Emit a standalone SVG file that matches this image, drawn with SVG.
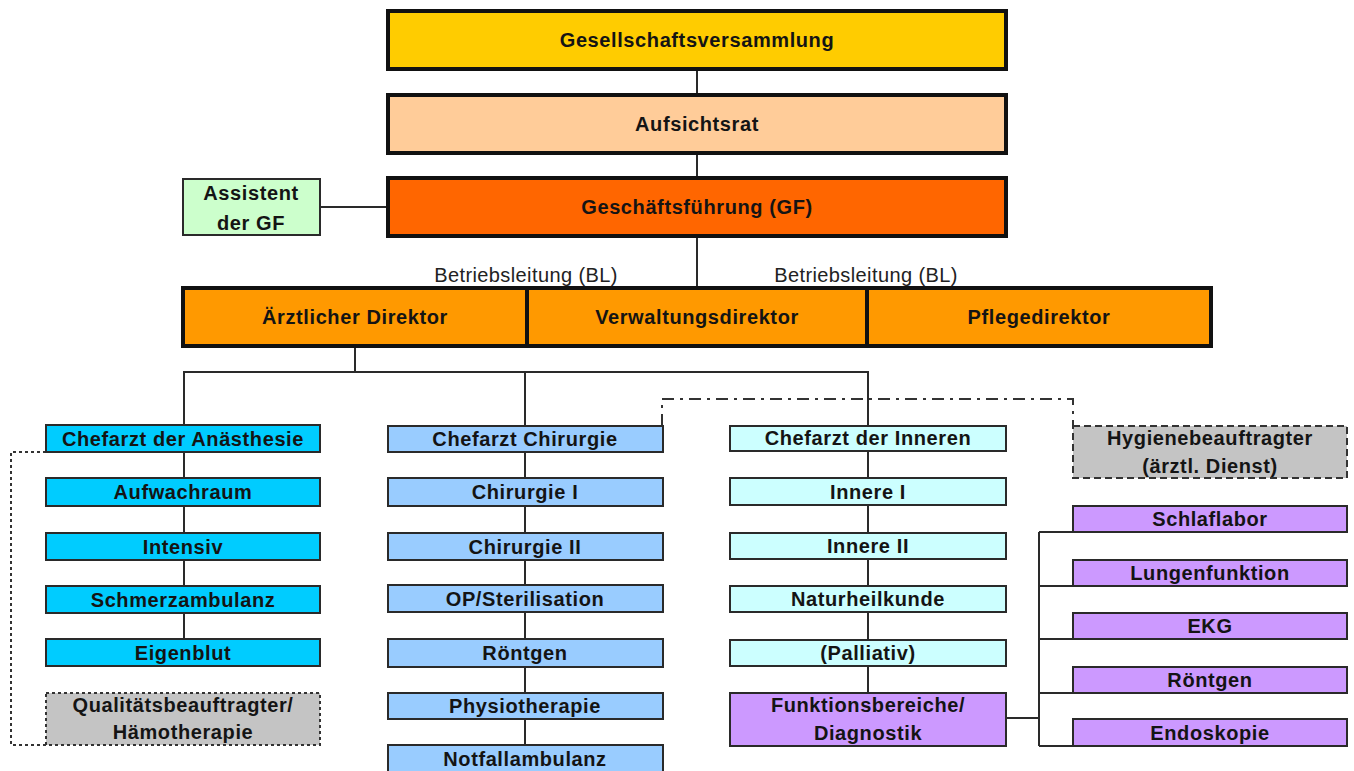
<svg xmlns="http://www.w3.org/2000/svg" width="1354" height="771" viewBox="0 0 1354 771">
<style>
  .bg { fill: #ffffff; }
  .big { stroke: #111111; stroke-width: 4; }
  .box { stroke: #2a2a2a; stroke-width: 2; }
  .t { font-family: "Liberation Sans", Arial, sans-serif; font-weight: bold; font-size: 20px; letter-spacing: 0.6px; fill: #141414; text-anchor: middle; }
  .lbl { font-family: "Liberation Sans", Arial, sans-serif; font-size: 20px; letter-spacing: 0.4px; fill: #222222; text-anchor: middle; }
  .ln { stroke: #2a2a2a; stroke-width: 2; fill: none; }
  .dashdot { stroke: #333333; stroke-width: 2; fill: none; stroke-dasharray: 12 6 3 6; }
  .dotted { stroke: #333333; stroke-width: 2; fill: none; stroke-dasharray: 3 3; }
  .gold { fill: #FFCC00; }
  .peach { fill: #FFCC99; }
  .red { fill: #FF6600; }
  .orange { fill: #FF9900; }
  .green { fill: #CCFFCC; }
  .cyan { fill: #00CCFF; }
  .blue { fill: #99CCFF; }
  .ice { fill: #CCFFFF; }
  .purple { fill: #CC99FF; }
  .gray { fill: #C4C4C4; }
</style>
<rect class="bg" x="0" y="0" width="1354" height="771"/>

<g id="connectors">
  <line class="ln" x1="697" y1="69" x2="697" y2="95"/>
  <line class="ln" x1="697" y1="153" x2="697" y2="178"/>
  <line class="ln" x1="697" y1="236" x2="697" y2="288"/>
  <line class="ln" x1="320" y1="207" x2="388" y2="207"/>
  <line class="ln" x1="355" y1="346" x2="355" y2="372"/>
  <polyline class="ln" points="184,426 184,372 868,372 868,426"/>
  <line class="ln" x1="525" y1="372" x2="525" y2="426"/>
  <line class="ln" x1="184" y1="426" x2="184" y2="639"/>
  <line class="ln" x1="525" y1="426" x2="525" y2="745"/>
  <line class="ln" x1="868" y1="426" x2="868" y2="693"/>
  <path class="dashdot" d="M662,426 V399 H1073 V426"/>
  <path class="dotted" d="M46,452 H11 V745 H46"/>
  <line class="ln" x1="1006" y1="718" x2="1039" y2="718"/>
  <line class="ln" x1="1039" y1="532" x2="1039" y2="746"/>
  <line class="ln" x1="1039" y1="532" x2="1073" y2="532"/>
  <line class="ln" x1="1039" y1="586" x2="1073" y2="586"/>
  <line class="ln" x1="1039" y1="639" x2="1073" y2="639"/>
  <line class="ln" x1="1039" y1="693" x2="1073" y2="693"/>
  <line class="ln" x1="1039" y1="746" x2="1073" y2="746"/>
</g>

<g id="n-gesellschaftsversammlung">
  <rect class="big gold" x="388" y="11" width="618" height="58"/>
  <text class="t" x="697" y="47">Gesellschaftsversammlung</text>
</g>
<g id="n-aufsichtsrat">
  <rect class="big peach" x="388" y="95" width="618" height="58"/>
  <text class="t" x="697" y="131">Aufsichtsrat</text>
</g>
<g id="n-gf">
  <rect class="big red" x="388" y="178" width="618" height="58"/>
  <text class="t" x="697" y="214">Geschäftsführung (GF)</text>
</g>
<g id="n-assistent">
  <rect class="box green" x="183" y="179" width="137" height="56"/>
  <text class="t" x="251" y="200">Assistent</text>
  <text class="t" x="251" y="230">der GF</text>
</g>

<g id="n-bl-labels">
  <text class="lbl" x="526" y="282">Betriebsleitung (BL)</text>
  <text class="lbl" x="866" y="282">Betriebsleitung (BL)</text>
</g>
<g id="n-aerztlicher-direktor">
  <rect class="big orange" x="183" y="288" width="344" height="58"/>
  <text class="t" x="355" y="324">Ärztlicher Direktor</text>
</g>
<g id="n-verwaltungsdirektor">
  <rect class="big orange" x="527" y="288" width="340" height="58"/>
  <text class="t" x="697" y="324">Verwaltungsdirektor</text>
</g>
<g id="n-pflegedirektor">
  <rect class="big orange" x="867" y="288" width="344" height="58"/>
  <text class="t" x="1039" y="324">Pflegedirektor</text>
</g>

<g id="n-anaesthesie">
  <rect class="box cyan" x="46" y="425" width="274" height="27"/>
  <text class="t" x="183" y="446">Chefarzt der Anästhesie</text>
</g>
<g id="n-aufwachraum">
  <rect class="box cyan" x="46" y="478" width="274" height="28"/>
  <text class="t" x="183" y="499">Aufwachraum</text>
</g>
<g id="n-intensiv">
  <rect class="box cyan" x="46" y="533" width="274" height="27"/>
  <text class="t" x="183" y="554">Intensiv</text>
</g>
<g id="n-schmerzambulanz">
  <rect class="box cyan" x="46" y="586" width="274" height="27"/>
  <text class="t" x="183" y="607">Schmerzambulanz</text>
</g>
<g id="n-eigenblut">
  <rect class="box cyan" x="46" y="639" width="274" height="27"/>
  <text class="t" x="183" y="660">Eigenblut</text>
</g>
<g id="n-qualitaet">
  <rect class="gray" x="46" y="693" width="274" height="52" stroke="#333333" stroke-width="2" stroke-dasharray="3 3"/>
  <text class="t" x="183" y="712">Qualitätsbeauftragter/</text>
  <text class="t" x="183" y="739">Hämotherapie</text>
</g>

<g id="n-chefarzt-chirurgie">
  <rect class="box blue" x="388" y="426" width="275" height="26"/>
  <text class="t" x="525" y="446">Chefarzt Chirurgie</text>
</g>
<g id="n-chirurgie-1">
  <rect class="box blue" x="388" y="478" width="275" height="28"/>
  <text class="t" x="525" y="499">Chirurgie I</text>
</g>
<g id="n-chirurgie-2">
  <rect class="box blue" x="388" y="533" width="275" height="27"/>
  <text class="t" x="525" y="554">Chirurgie II</text>
</g>
<g id="n-op">
  <rect class="box blue" x="388" y="585" width="275" height="27"/>
  <text class="t" x="525" y="606">OP/Sterilisation</text>
</g>
<g id="n-roentgen-1">
  <rect class="box blue" x="388" y="639" width="275" height="28"/>
  <text class="t" x="525" y="660">Röntgen</text>
</g>
<g id="n-physiotherapie">
  <rect class="box blue" x="388" y="693" width="275" height="26"/>
  <text class="t" x="525" y="713">Physiotherapie</text>
</g>
<g id="n-notfall">
  <rect class="box blue" x="388" y="745" width="275" height="30"/>
  <text class="t" x="525" y="766">Notfallambulanz</text>
</g>

<g id="n-chefarzt-inneren">
  <rect class="box ice" x="730" y="426" width="276" height="25"/>
  <text class="t" x="868" y="445">Chefarzt der Inneren</text>
</g>
<g id="n-innere-1">
  <rect class="box ice" x="730" y="478" width="276" height="27"/>
  <text class="t" x="868" y="499">Innere I</text>
</g>
<g id="n-innere-2">
  <rect class="box ice" x="730" y="533" width="276" height="26"/>
  <text class="t" x="868" y="553">Innere II</text>
</g>
<g id="n-naturheilkunde">
  <rect class="box ice" x="730" y="586" width="276" height="26"/>
  <text class="t" x="868" y="606">Naturheilkunde</text>
</g>
<g id="n-palliativ">
  <rect class="box ice" x="730" y="640" width="276" height="26"/>
  <text class="t" x="868" y="660">(Palliativ)</text>
</g>
<g id="n-funktionsbereiche">
  <rect class="box purple" x="730" y="693" width="276" height="53"/>
  <text class="t" x="868" y="712">Funktionsbereiche/</text>
  <text class="t" x="868" y="740">Diagnostik</text>
</g>

<g id="n-hygiene">
  <rect class="gray" x="1073" y="426" width="274" height="52" stroke="#333333" stroke-width="2" stroke-dasharray="7 4"/>
  <text class="t" x="1210" y="445">Hygienebeauftragter</text>
  <text class="t" x="1210" y="473">(ärztl. Dienst)</text>
</g>
<g id="n-schlaflabor">
  <rect class="box purple" x="1073" y="506" width="274" height="26"/>
  <text class="t" x="1210" y="526">Schlaflabor</text>
</g>
<g id="n-lungenfunktion">
  <rect class="box purple" x="1073" y="560" width="274" height="26"/>
  <text class="t" x="1210" y="580">Lungenfunktion</text>
</g>
<g id="n-ekg">
  <rect class="box purple" x="1073" y="613" width="274" height="26"/>
  <text class="t" x="1210" y="633">EKG</text>
</g>
<g id="n-roentgen-2">
  <rect class="box purple" x="1073" y="667" width="274" height="26"/>
  <text class="t" x="1210" y="687">Röntgen</text>
</g>
<g id="n-endoskopie">
  <rect class="box purple" x="1073" y="719" width="274" height="27"/>
  <text class="t" x="1210" y="740">Endoskopie</text>
</g>
</svg>
